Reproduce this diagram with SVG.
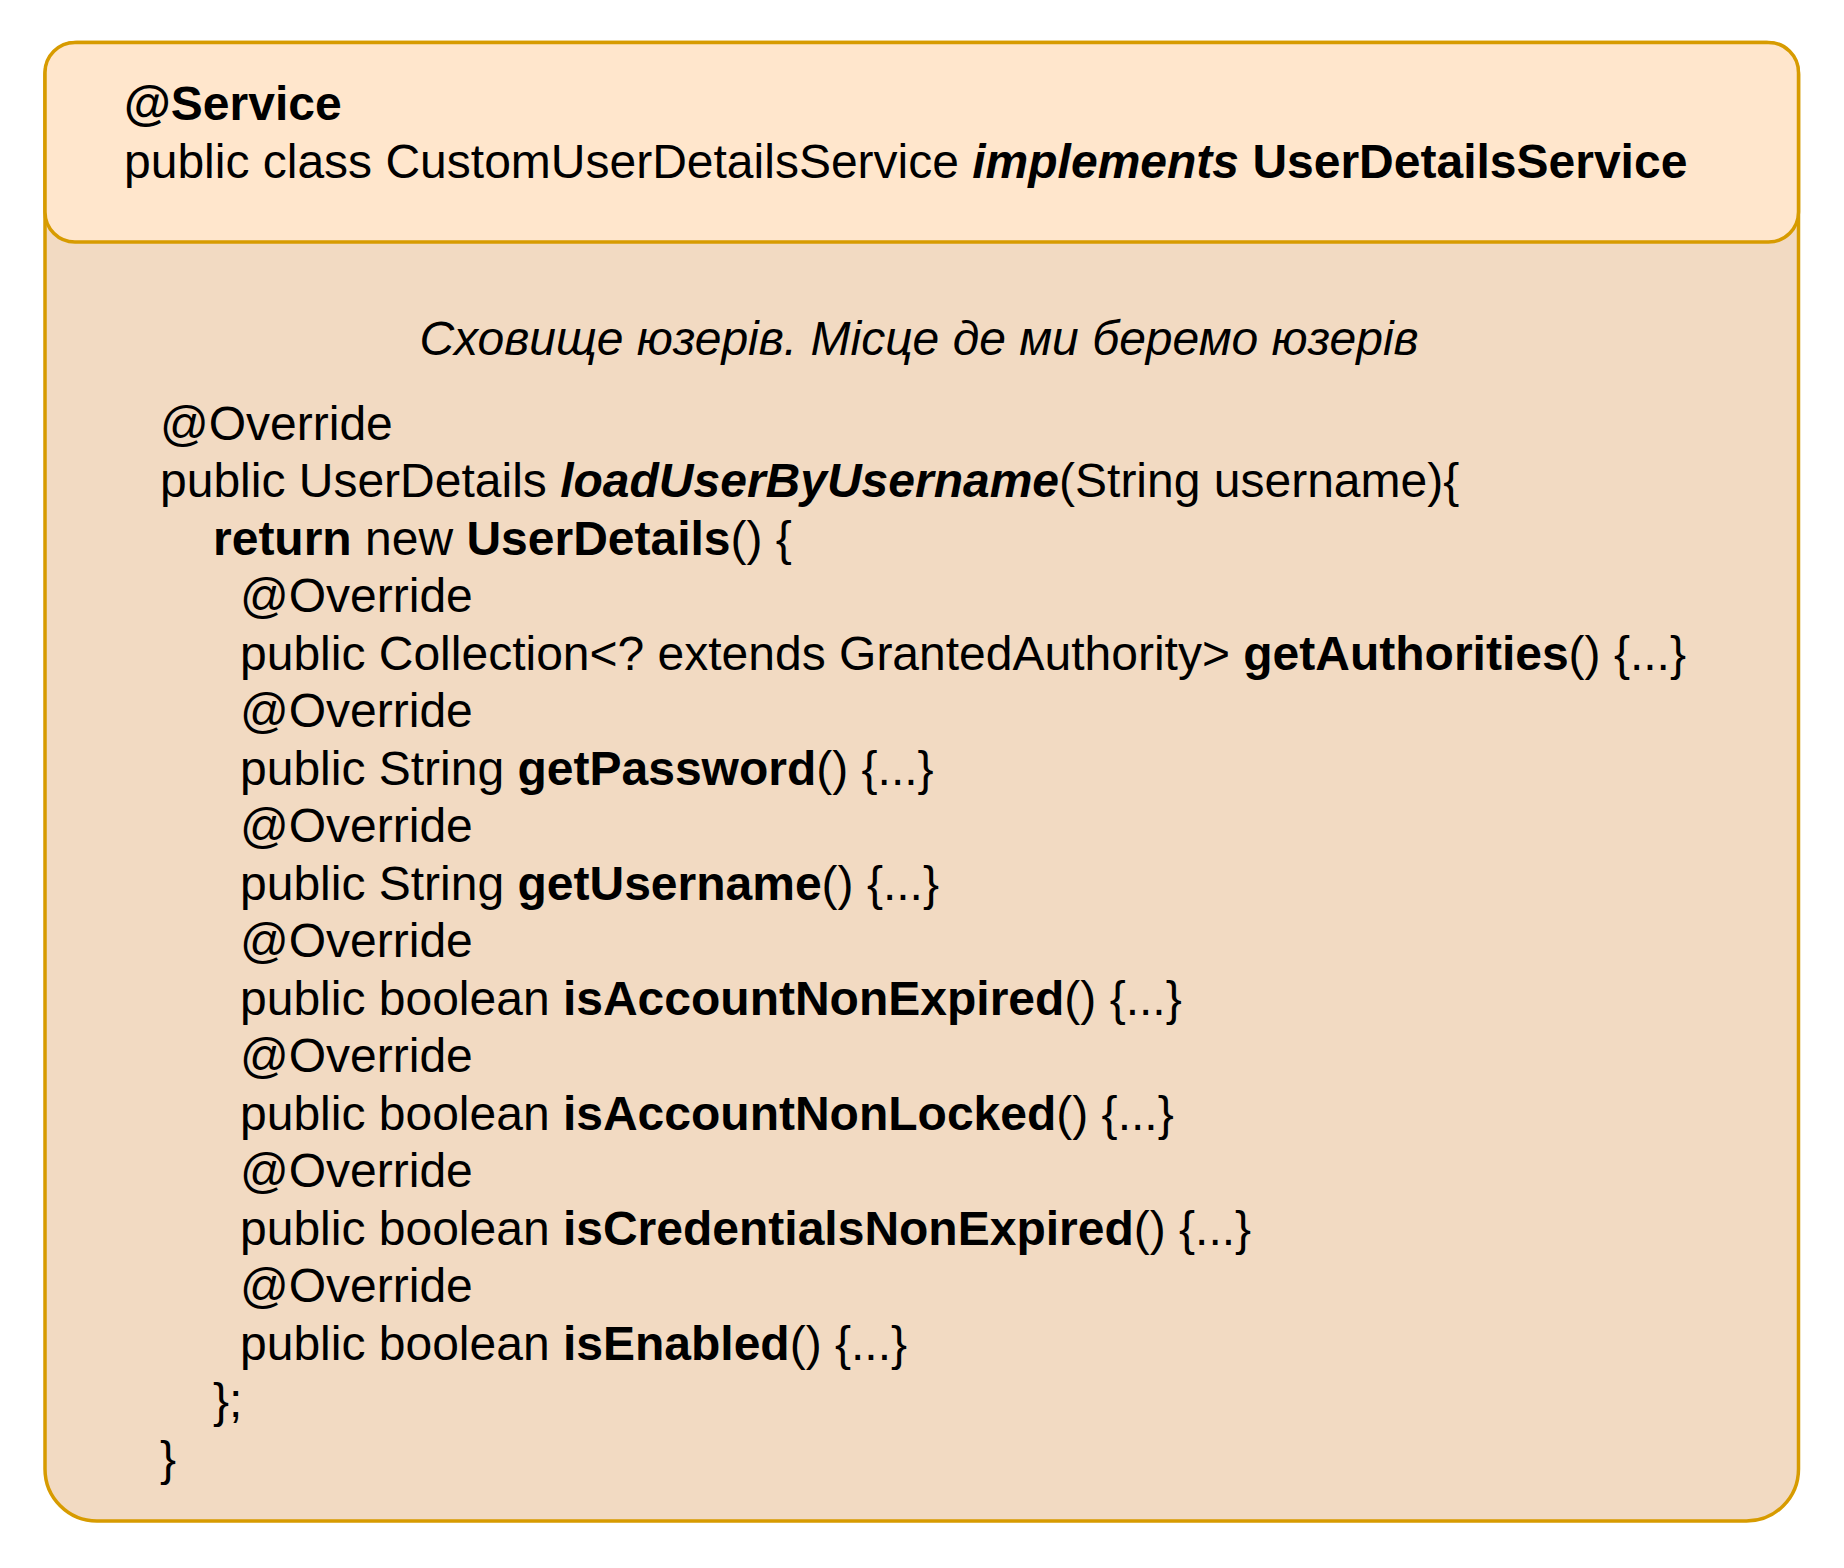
<svg xmlns="http://www.w3.org/2000/svg" width="1844" height="1568" viewBox="0 0 1844 1568">
<style>
.t{font-family:"Liberation Sans",Arial,Helvetica,sans-serif;font-size:48px;fill:#000000}
.b{font-weight:bold}
.i{font-style:italic}
.frame{stroke:#d79b00;stroke-width:3.5}
</style>
<rect x="0" y="0" width="1844" height="1568" fill="#ffffff"/>
<g id="connectors"></g>
<g id="custom-user-details-service">
  <path class="frame" fill="#f2dac2" d="M45,74.5 A32,32 0 0 1 77,42.5 L1766.5,42.5 A32,32 0 0 1 1798.5,74.5 L1798.5,1469 A52,52 0 0 1 1746.5,1521 L97,1521 A52,52 0 0 1 45,1469 Z"/>
  <rect class="frame" x="45" y="42.5" width="1753.5" height="199.5" rx="30" ry="30" fill="#ffe6cc"/>
  <text class="t b" x="124" y="120">@Service</text>
  <text class="t" x="124" y="178">public class CustomUserDetailsService <tspan class="b i">implements</tspan> <tspan class="b">UserDetailsService</tspan></text>
  <text class="t i" x="919" y="355" text-anchor="middle">Сховище юзерів. Місце де ми беремо юзерів</text>
  <text class="t" x="160" y="439.5">@Override</text>
  <text class="t" x="160" y="497">public UserDetails <tspan class="b i">loadUserByUsername</tspan>(String username){</text>
  <text class="t" x="213" y="554.5"><tspan class="b">return</tspan> new <tspan class="b">UserDetails</tspan>() {</text>
  <text class="t" x="240" y="612">@Override</text>
  <text class="t" x="240" y="669.5">public Collection&lt;? extends GrantedAuthority&gt; <tspan class="b">getAuthorities</tspan>() {...}</text>
  <text class="t" x="240" y="727">@Override</text>
  <text class="t" x="240" y="784.5">public String <tspan class="b">getPassword</tspan>() {...}</text>
  <text class="t" x="240" y="842">@Override</text>
  <text class="t" x="240" y="899.5">public String <tspan class="b">getUsername</tspan>() {...}</text>
  <text class="t" x="240" y="957">@Override</text>
  <text class="t" x="240" y="1014.5">public boolean <tspan class="b">isAccountNonExpired</tspan>() {...}</text>
  <text class="t" x="240" y="1072">@Override</text>
  <text class="t" x="240" y="1129.5">public boolean <tspan class="b">isAccountNonLocked</tspan>() {...}</text>
  <text class="t" x="240" y="1187">@Override</text>
  <text class="t" x="240" y="1244.5">public boolean <tspan class="b">isCredentialsNonExpired</tspan>() {...}</text>
  <text class="t" x="240" y="1302">@Override</text>
  <text class="t" x="240" y="1359.5">public boolean <tspan class="b">isEnabled</tspan>() {...}</text>
  <text class="t" x="213" y="1417">};</text>
  <text class="t" x="160" y="1474.5">}</text>
</g>
</svg>
